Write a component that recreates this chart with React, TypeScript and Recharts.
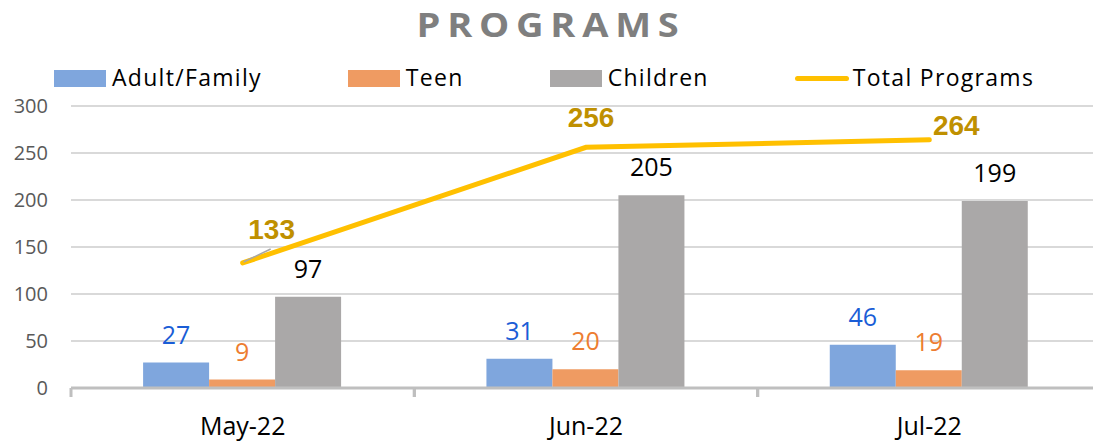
import { Bar, CartesianGrid, ComposedChart, LabelList, Line, XAxis, YAxis } from 'recharts';

const months = ['May-22', 'Jun-22', 'Jul-22'];
const adultFamily = [27, 31, 46];
const teen = [9, 20, 19];
const children = [97, 205, 199];
const totalPrograms = [133, 256, 264];
const yTicks = [0, 50, 100, 150, 200, 250, 300];

const data = months.map((month, i) => ({
  month,
  adult: adultFamily[i],
  teen: teen[i],
  children: children[i],
  total: totalPrograms[i],
}));

const COLORS = {
  adult: '#7fa6dd',
  teen: '#ef9b62',
  children: '#aaa8a8',
  total: '#ffc000',
  grid: '#d9d9d9',
  axis: '#bfbfbf',
};

// the total labels were dragged around by hand in the original, so shift them per point
const TOTAL_LABEL_SHIFT = [
  { dx: 29, dy: -24, leader: true },
  { dx: 5, dy: -20, leader: false },
  { dx: 27, dy: -5, leader: false },
];

const LEGEND = [
  { name: 'Adult/Family', color: COLORS.adult, kind: 'box' },
  { name: 'Teen', color: COLORS.teen, kind: 'box' },
  { name: 'Children', color: COLORS.children, kind: 'box' },
  { name: 'Total Programs', color: COLORS.total, kind: 'line' },
];

const FONT = '"Open Sans", sans-serif';

function TotalLabel(props: any) {
  const { x, y, value, index } = props;
  const shift = TOTAL_LABEL_SHIFT[index] || { dx: 0, dy: -10, leader: false };
  return (
    <g>
      {shift.leader && (
        <line x1={x + 1} y1={y - 1} x2={x + 28} y2={y - 14} stroke="#a6a6a6" strokeWidth={1.5} />
      )}
      <text
        x={x + shift.dx}
        y={y + shift.dy}
        textAnchor="middle"
        fill="#bf9000"
        fontFamily='"Liberation Sans", Arial, sans-serif'
        fontWeight="bold"
        fontSize={28}
      >
        {value}
      </text>
    </g>
  );
}

function MonthTick(props: any) {
  const { x, y, payload } = props;
  const half = payload?.offset ?? 0;
  return (
    <g>
      <line x1={x - half} y1={y} x2={x - half} y2={y + 9} stroke={COLORS.axis} strokeWidth={3} />
      <line x1={x + half} y1={y} x2={x + half} y2={y + 9} stroke={COLORS.axis} strokeWidth={3} />
      <text x={x} y={y + 47} textAnchor="middle" fill="#000" fontFamily={FONT} fontSize={25}>
        {payload.value}
      </text>
    </g>
  );
}

export default function App() {
  return (
    <div
      style={{
        position: 'fixed',
        left: 0,
        top: 0,
        width: 1093,
        height: 444,
        overflow: 'hidden',
        background: '#fff',
      }}
    >
      <svg width={1093} height={50} style={{ position: 'absolute', left: 0, top: 0 }}>
        {/* the original title is a touch wider than Open Sans, so stretch it a little */}
        <text
          transform="translate(551,37) scale(1.12,1)"
          x={0}
          y={0}
          textAnchor="middle"
          fill="#7f7f7f"
          fontFamily={FONT}
          fontWeight="bold"
          fontSize={34}
          letterSpacing={6}
        >
          PROGRAMS
        </text>
      </svg>

      <div
        style={{
          position: 'absolute',
          top: 66,
          left: 54,
          display: 'flex',
          alignItems: 'flex-start',
          gap: 86,
          fontFamily: FONT,
          fontSize: 23,
          lineHeight: '23px',
          letterSpacing: 1.3,
          color: '#000',
          whiteSpace: 'nowrap',
        }}
      >
        {LEGEND.map((item) => (
          <div key={item.name} style={{ display: 'flex', alignItems: 'flex-start' }}>
            {item.kind === 'box' ? (
              <div style={{ width: 52, height: 17, marginTop: 4, marginRight: 6, background: item.color }} />
            ) : (
              <div
                style={{
                  width: 54,
                  height: 5,
                  marginTop: 10,
                  marginRight: 4,
                  borderRadius: 3,
                  background: item.color,
                }}
              />
            )}
            <span>{item.name}</span>
          </div>
        ))}
      </div>

      <div style={{ position: 'absolute', left: 0, top: 0 }}>
        <ComposedChart
          width={1101}
          height={444}
          data={data}
          margin={{ top: 106, right: 0, bottom: 0, left: 0 }}
          barCategoryGap="21%"
          barGap={0}
        >
          <CartesianGrid vertical={false} stroke={COLORS.grid} strokeWidth={2} />
          <YAxis
            width={71}
            domain={[0, 300]}
            ticks={yTicks}
            axisLine={false}
            tickLine={false}
            tickSize={0}
            tickMargin={23}
            tick={{ fill: '#595959', fontSize: 20, fontFamily: FONT }}
          />
          <XAxis
            dataKey="month"
            height={56}
            axisLine={{ stroke: COLORS.axis, strokeWidth: 3 }}
            tickLine={false}
            tickSize={0}
            tickMargin={0}
            tick={<MonthTick />}
            interval={0}
          />
          <Bar dataKey="adult" fill={COLORS.adult} isAnimationActive={false}>
            <LabelList dataKey="adult" position="top" offset={19} fill="#1a5dd6" fontSize={25} fontFamily={FONT} />
          </Bar>
          <Bar dataKey="teen" fill={COLORS.teen} isAnimationActive={false}>
            <LabelList dataKey="teen" position="top" offset={19} fill="#ed7d31" fontSize={25} fontFamily={FONT} />
          </Bar>
          <Bar dataKey="children" fill={COLORS.children} isAnimationActive={false}>
            <LabelList dataKey="children" position="top" offset={19} fill="#000" fontSize={25} fontFamily={FONT} />
          </Bar>
          <Line
            type="linear"
            dataKey="total"
            stroke={COLORS.total}
            strokeWidth={5}
            strokeLinecap="round"
            dot={false}
            activeDot={false}
            isAnimationActive={false}
          >
            <LabelList dataKey="total" content={<TotalLabel />} />
          </Line>
        </ComposedChart>
      </div>
    </div>
  );
}
